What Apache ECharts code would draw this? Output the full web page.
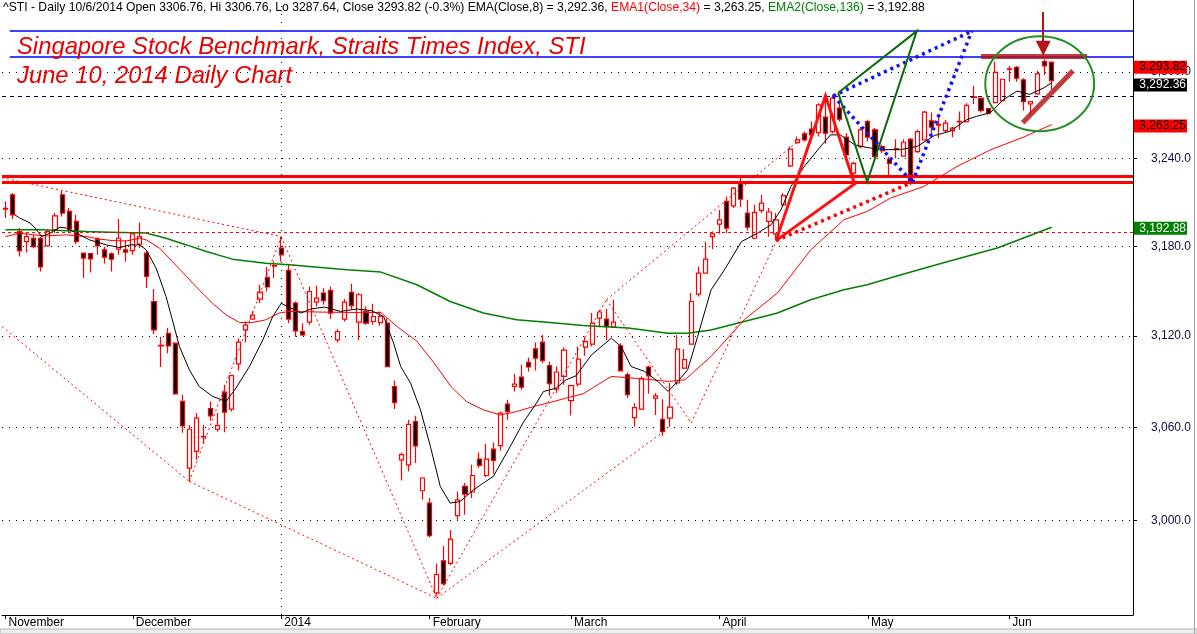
<!DOCTYPE html>
<html>
<head>
<meta charset="utf-8">
<title>STI Daily Chart</title>
<script src="https://cdn.jsdelivr.net/npm/echarts@6.0.0/dist/echarts.min.js"></script>
<style>
html,body{margin:0;padding:0;background:#ffffff;overflow:hidden;}
#chart{width:1197px;height:634px;}
</style>
</head>
<body>
<div id="chart"></div>
<script>
// ---------------- data ----------------
const monthLabels = ['November','December','2014','February','March','April','May','Jun'];
const monthStartSlots = [0,18,39,60,80,101,122,142];
const slotCount = 160;
const yTicks = [3000,3060,3120,3180,3240,3300];
const yRange = [2940.5, 3350.7];

// [open, close, low, high]
const candles = [
[3205.1,3205.7,3199.1,3210.4],[3214.9,3201.3,3198.4,3216.1],[3189.9,3176.9,3173.0,3192.3],[3183.1,3186.5,3175.7,3188.9],
[3185.4,3179.7,3178.7,3187.7],[3185.4,3166.0,3163.0,3186.5],[3180.2,3189.9,3179.7,3191.1],[3191.1,3200.6,3188.9,3202.5],
[3214.9,3202.5,3200.2,3217.6],[3203.6,3191.6,3188.9,3205.9],[3196.8,3183.1,3181.6,3201.3],[3175.3,3172.0,3158.6,3175.8],
[3175.0,3171.5,3162.3,3175.5],[3184.8,3180.2,3174.2,3186.1],[3177.5,3172.6,3168.4,3179.7],[3174.9,3171.3,3163.0,3175.7],
[3178.0,3185.4,3174.2,3198.4],[3177.5,3176.1,3169.5,3184.3],[3177.0,3188.4,3174.2,3189.3],[3181.4,3186.5,3178.7,3196.1],
[3175.3,3159.7,3151.9,3177.5],[3142.9,3124.0,3121.3,3151.2],[3113.4,3113.8,3099.5,3119.5],[3121.8,3113.4,3108.6,3125.2],
[3115.2,3081.9,3081.3,3115.8],[3076.9,3060.9,3056.6,3081.3],[3033.7,3058.8,3025.1,3061.6],[3044.4,3066.0,3039.0,3069.3],
[3053.8,3054.2,3049.8,3061.6],[3072.3,3067.5,3064.4,3076.9],[3058.8,3061.1,3057.2,3069.3],[3083.0,3069.9,3056.9,3087.8],
[3071.9,3093.9,3070.3,3094.4],[3101.6,3115.9,3097.2,3118.5],[3124.0,3127.2,3115.6,3129.6],[3131.2,3133.8,3130.7,3136.3],
[3144.5,3149.2,3141.9,3154.1],[3159.0,3152.6,3149.6,3166.0],[3166.6,3167.0,3158.6,3169.7],[3178.7,3174.2,3169.7,3186.5],
[3163.7,3131.2,3128.5,3167.5],[3141.9,3123.3,3119.5,3142.9],[3122.9,3120.7,3120.0,3128.5],[3129.2,3149.6,3127.4,3153.0],
[3142.5,3145.2,3139.6,3153.4],[3148.6,3143.4,3140.7,3151.7],[3150.3,3135.2,3131.2,3153.0],[3117.4,3122.9,3115.6,3124.5],
[3131.2,3142.5,3129.6,3144.5],[3149.0,3140.1,3137.9,3154.8],[3129.2,3147.4,3117.4,3148.6],[3136.3,3128.5,3127.4,3139.6],
[3129.6,3132.9,3127.4,3141.4],[3128.9,3132.9,3126.7,3136.3],[3128.5,3099.8,3099.5,3131.8],[3086.7,3076.2,3071.9,3090.7],
[3039.0,3042.3,3025.7,3043.7],[3035.8,3062.0,3031.5,3064.8],[3063.7,3048.0,3036.9,3067.5],[3019.1,3027.3,3013.3,3027.8],
[3011.2,2990.4,2989.4,3014.4],[2954.4,2965.9,2952.7,2972.9],[2974.5,2960.1,2959.0,2983.9],[2972.9,2988.2,2971.8,2994.1],
[3003.2,3013.3,3000.5,3018.7],[3021.9,3017.0,3003.7,3024.1],[3018.3,3028.9,3014.4,3035.8],[3039.5,3035.4,3033.7,3043.7],
[3028.9,3039.5,3027.9,3049.3],[3045.9,3038.6,3030.0,3050.2],[3048.2,3069.3,3044.8,3070.3],[3075.2,3070.3,3064.9,3078.0],
[3086.7,3088.3,3083.4,3095.1],[3092.9,3086.3,3084.6,3101.0],[3102.5,3099.5,3096.6,3105.8],[3111.5,3105.4,3097.2,3115.6],
[3115.9,3103.6,3102.1,3120.7],[3100.5,3088.5,3080.6,3103.1],[3085.0,3096.2,3082.4,3099.8],[3093.3,3110.6,3087.8,3112.6],
[3077.5,3087.2,3067.7,3087.8],[3088.3,3104.7,3086.7,3113.0],[3112.6,3116.3,3106.9,3119.5],[3114.6,3128.5,3113.0,3135.2],
[3131.8,3135.9,3125.8,3137.4],[3131.2,3126.2,3117.4,3137.9],[3125.8,3129.2,3125.2,3144.1],[3113.4,3097.0,3096.6,3115.2],
[3094.4,3081.3,3079.1,3095.9],[3066.4,3072.9,3060.5,3075.8],[3071.9,3091.8,3071.4,3093.3],[3099.5,3093.7,3081.9,3100.3],
[3079.1,3080.6,3068.1,3082.4],[3065.3,3057.2,3054.5,3078.4],[3066.0,3073.2,3060.5,3089.0],[3089.0,3111.3,3087.8,3120.7],
[3098.8,3104.3,3098.1,3111.3],[3114.6,3142.9,3114.1,3148.6],[3147.9,3161.9,3146.3,3166.4],[3161.9,3171.3,3161.4,3183.1],
[3186.5,3188.4,3178.0,3189.9],[3195.0,3197.9,3188.4,3204.7],[3210.4,3192.3,3188.9,3213.8],[3207.4,3219.5,3205.9,3220.2],
[3222.4,3212.0,3206.6,3227.4],[3202.5,3192.9,3190.6,3211.5],[3185.4,3202.9,3184.8,3208.1],[3204.3,3209.3,3202.5,3214.9],
[3196.8,3203.2,3186.5,3205.9],[3188.4,3197.9,3184.3,3202.5],[3208.1,3214.3,3207.0,3216.1],[3234.7,3246.2,3233.9,3248.0],
[3250.8,3252.6,3249.9,3254.9],[3256.8,3252.6,3251.5,3258.4],[3260.1,3256.1,3254.9,3265.3],[3257.7,3276.9,3254.9,3278.1],
[3268.4,3257.3,3249.9,3282.7],[3258.4,3281.6,3257.3,3283.9],[3274.7,3267.0,3265.3,3278.1],[3254.5,3242.2,3240.6,3257.3],
[3229.7,3236.5,3227.4,3237.6],[3248.0,3259.6,3246.9,3261.5],[3265.3,3254.5,3251.5,3266.5],[3259.6,3241.0,3239.9,3260.8],
[3248.0,3245.2,3243.4,3249.2],[3239.3,3236.5,3227.0,3241.0],[3246.2,3246.6,3239.9,3253.1],[3241.5,3251.0,3241.0,3253.1],
[3253.1,3223.3,3221.7,3253.8],[3244.5,3258.4,3243.8,3259.6],[3252.6,3271.9,3252.2,3272.8],[3265.8,3261.5,3253.8,3271.6],
[3262.9,3263.3,3253.8,3268.8],[3259.1,3264.2,3257.7,3266.5],[3259.1,3260.8,3254.5,3261.5],[3265.1,3265.5,3259.6,3272.3],
[3265.3,3276.5,3264.7,3278.1],[3282.1,3282.5,3277.6,3290.1],[3281.6,3273.0,3271.6,3282.0],[3274.4,3271.2,3270.0,3274.7],
[3278.5,3299.6,3278.1,3307.1],[3279.9,3294.8,3279.2,3295.2],[3301.6,3302.0,3293.1,3304.1],[3303.2,3295.5,3293.1,3304.1],
[3294.3,3279.2,3273.0,3295.5],[3277.6,3279.2,3270.0,3279.6],[3284.6,3298.5,3283.9,3300.8],[3307.1,3304.1,3297.8,3308.8],
[3306.76,3293.82,3287.64,3306.76]
];

// EMA readings: [slot, value]
const ema8 = [[1.3,3201.3],[2,3199.1],[3.5,3195.7],[4.4,3191.1],[5.1,3186.5],[6.3,3188.9],[7.7,3192.9],[8.6,3192.3],[10,3188.9],[11.9,3184.3],[14.3,3180.9],[16.2,3179.1],[17.6,3180.9],[19,3180.9],[19.9,3177.5],[21.3,3165.3],[22.7,3146.3],[23.6,3130.7],[24.6,3113.0],[26,3097.7],[27.4,3086.7],[29.3,3080.2],[31.2,3076.9],[32.6,3085.7],[34.5,3099.8],[36.4,3117.4],[37.8,3132.9],[39,3141.7],[39.9,3139.6],[41.8,3135.2],[43.2,3137.9],[45.1,3139.2],[47.4,3136.3],[49.7,3137.9],[51.7,3136.9],[53.5,3132.9],[54.9,3115.2],[55.9,3099.8],[57.3,3088.9],[58.7,3071.4],[60.1,3047.7],[61.5,3021.9],[62.9,3011.2],[64.3,3012.2],[66.2,3019.7],[67.6,3024.1],[69,3028.3],[71.4,3047.6],[73.3,3063.7],[75.1,3075.8],[76.1,3083.4],[77.9,3085.7],[79.3,3091.1],[80.7,3093.7],[82.9,3107.5],[85.7,3118.5],[87.1,3112.9],[88.5,3099.8],[90.4,3096.6],[92.3,3090.0],[93.7,3083.5],[95.1,3090.0],[96.5,3097.7],[97.9,3119.5],[99.8,3150.6],[101.7,3164.1],[104.1,3183.1],[106.4,3188.9],[108.3,3194.5],[109.7,3204.7],[111.1,3220.6],[113,3234.3],[114.9,3245.7],[116.7,3256.1],[118.1,3256.1],[120.1,3249.3],[121.9,3247.3],[124.3,3245.9],[126.6,3245.9],[129,3248.2],[131.4,3255.6],[133.6,3258.6],[136,3266.7],[137.4,3269.0],[139.3,3271.4],[141.2,3280.7],[143.1,3286.5],[144.9,3284.2],[146.9,3288.8],[148,3292.36]];
const ema34 = [[0,3186.5],[2,3188.9],[3.9,3187.7],[5.9,3187.0],[8.6,3187.7],[11.5,3186.5],[13.3,3184.8],[15.2,3183.8],[17.1,3183.6],[19,3185.4],[19.9,3184.3],[21.8,3178.7],[23.6,3169.7],[25.6,3159.7],[27.4,3150.6],[29.3,3141.7],[31.2,3134.0],[33.1,3128.9],[34.9,3128.9],[36.8,3130.7],[38.7,3135.2],[40.1,3136.3],[44.1,3135.9],[48.8,3135.6],[53.1,3135.6],[55.4,3126.2],[58.2,3116.5],[60.6,3102.3],[63,3086.7],[65.2,3076.9],[67.6,3071.4],[70,3068.1],[72.3,3070.3],[74.7,3073.6],[77,3076.2],[79.3,3079.1],[81.7,3081.9],[85.7,3093.3],[90.4,3091.6],[93.7,3090.0],[96.1,3091.1],[99.8,3106.4],[104.5,3130.7],[109.2,3148.6],[113.9,3177.5],[118.6,3197.9],[121.9,3203.6],[125.2,3212.7],[129.9,3220.6],[134.6,3234.3],[139.3,3245.7],[144,3254.5],[148,3263.25]];
const ema136 = [[0,3191.1],[4.9,3191.1],[11.5,3189.9],[14.7,3189.5],[19.9,3188.9],[22.7,3185.4],[25.6,3180.9],[28.4,3176.4],[32.1,3171.3],[36.8,3168.6],[40.1,3167.5],[48.3,3164.1],[53.1,3162.6],[58.2,3154.1],[62.9,3142.9],[67.6,3135.2],[72.3,3130.7],[77,3128.9],[81.7,3127.0],[88.1,3125.2],[93.7,3121.8],[96.5,3121.8],[99.8,3124.0],[104.5,3129.6],[109.2,3135.2],[113.9,3144.1],[118.6,3150.8],[121.9,3154.1],[126.2,3160.1],[133.2,3169.5],[140.3,3178.8],[148,3192.88]];

// drawn study lines (slot, price)
const thinTrendLines = [
 [[-0.5,3226.6],[39,3186.5]],
 [[-0.5,3126.2],[26,3025.1]],
 [[26,3025.1],[39,3186.5]],
 [[26,3025.1],[61,2951.0]],
 [[39,3186.5],[61,2951.0]],
 [[61,2951.0],[85,3144.1]],
 [[61,2951.0],[93,3057.0]],
 [[85,3144.1],[97,3062.9]],
 [[97,3062.9],[109,3183.1]],
 [[85,3144.1],[113.5,3257.5]]
];
const redTriangle = [[109,3183.8],[116,3283.2],[120.1,3222.4],[109,3183.8]];
const redDottedLine = [[109,3183.8],[128.3,3223.5]];
const blueDottedLines = [
 [[117.1,3283.2],[128.3,3223.5]],
 [[117.1,3283.2],[136.7,3328.6]],
 [[128.3,3223.5],[136.7,3328.6]]
];
const greenTriangle = [[117.8,3285.3],[128.9,3328.6],[121.9,3223.7],[117.8,3285.3]];
const redThickLevels = [3227.9, 3223.4];
const blueLevels = [3328.6, 3310.9];
const navyDashedLevel = 3283.2;
const redDashedLevel = 3189.3;
const circleBar = [[138,3311.1],[153,3311.1]];
const circleDiagonal = [[143.9,3264.5],[151,3300.8]];
const circleArrow = [[146.8,3342.2],[146.8,3316.5]];
const circleBox = {center:[146.3,3291.0], xSpan:[138.6,154.0], ySpan:[3258.6,3325.0]};
const priceTagValues = [3293.82, 3292.36, 3263.25, 3192.88];
const priceTagText = ['3,293.82','3,292.36','3,263.25','3,192.88'];

// ---------------- chart ----------------
const FONT = '"Liberation Sans", Arial, sans-serif';
const categories = Array.from({length: slotCount}, (_, i) => {
  const k = monthStartSlots.indexOf(i);
  return k >= 0 ? monthLabels[k] : String(i);
});
const isMonthStart = (i) => monthStartSlots.indexOf(i) >= 0;
function fmtTick(v){
  const s = Number(v).toFixed(1); const p = s.split('.');
  return p[0].replace(/\B(?=(\d{3})+(?!\d))/g, ',') + '.' + p[1];
}
const xL = -0.5, xR = slotCount - 0.5;
const hseg = (v, a, b) => ({coords: [[a === undefined ? xL : a, v], [b === undefined ? xR : b, v]]});

function linesSeries(data, style, extra){
  return Object.assign({
    type:'lines', coordinateSystem:'cartesian2d', xAxisIndex:1, yAxisIndex:0,
    polyline:false, silent:true, data: data,
    lineStyle: Object.assign({opacity:1, curveness:0}, style), z:5
  }, extra || {});
}

const chart = echarts.init(document.getElementById('chart'), null, {renderer:'canvas'});
const option = {
  animation:false,
  backgroundColor:'#ffffff',
  grid:{left:2, top:0, right:64, bottom:19, containLabel:false},
  xAxis:[
    {type:'category', data:categories, boundaryGap:true, position:'bottom',
     axisLine:{show:true, onZero:false, lineStyle:{color:'#000000', width:1}},
     axisTick:{show:true, alignWithLabel:true, length:4, interval:isMonthStart, lineStyle:{color:'#000000'}},
     axisLabel:{show:true, interval:isMonthStart, align:'left', margin:2, padding:[0,0,0,3],
                color:'#000000', fontFamily:FONT, fontSize:12},
     splitLine:{show:false}},
    {type:'value', min:xL, max:xR, show:false, position:'top'}
  ],
  yAxis:[
    {type:'log', logBase:10, position:'right', min:yRange[0], max:yRange[1],
     axisLine:{show:true, onZero:false, lineStyle:{color:'#000000', width:1}},
     axisTick:{show:true, length:4, customValues:yTicks, lineStyle:{color:'#000000'}},
     axisLabel:{show:true, customValues:yTicks, formatter:fmtTick, align:'right', margin:58,
                color:'#0d0d40', fontFamily:FONT, fontSize:12},
     splitLine:{show:false}}
  ],
  series:[
    linesSeries(yTicks.map(v => hseg(v)), {color:'#000000', width:1, type:[1,6]}, {z:1}),
    linesSeries([{coords:[[39, yRange[0]],[39, yRange[1]]]}], {color:'#000000', width:1, type:[1,7]}, {z:1}),
    {type:'candlestick', xAxisIndex:0, yAxisIndex:0, data:candles, barWidth:4.6, z:2,
     itemStyle:{color:'#ffffff', color0:'#000000', borderColor:'#ff0000', borderColor0:'#ff0000',
                borderColorDoji:'#ff0000', borderWidth:1.2}},
    {type:'line', xAxisIndex:1, yAxisIndex:0, data:ema136, symbol:'none', z:3, lineStyle:{color:'#008000', width:1.5}},
    {type:'line', xAxisIndex:1, yAxisIndex:0, data:ema34, symbol:'none', z:3, lineStyle:{color:'#ff0000', width:1}},
    {type:'line', xAxisIndex:1, yAxisIndex:0, data:ema8, symbol:'none', z:3, lineStyle:{color:'#000000', width:1}},
    linesSeries([hseg(navyDashedLevel)], {color:'#000080', width:1, type:[4,4]}),
    linesSeries([hseg(redDashedLevel)], {color:'#ff0000', width:1, type:[3,3]}),
    linesSeries(redThickLevels.map(v => hseg(v)), {color:'#ff0000', width:3}),
    linesSeries(blueLevels.map(v => hseg(v, 0.6)), {color:'#0000ff', width:1.6}),
    linesSeries(thinTrendLines.map(c => ({coords:c})), {color:'#ff0000', width:1, type:[2,3]}),
    linesSeries([{coords:redTriangle}], {color:'#ff1010', width:3}, {polyline:true}),
    linesSeries([{coords:redDottedLine}], {color:'#ff0000', width:3.5, type:[3,4]}),
    linesSeries(blueDottedLines.map(c => ({coords:c})), {color:'#1010ff', width:3.5, type:[3,4]}),
    linesSeries([{coords:greenTriangle}], {color:'#0a6a0a', width:2}, {polyline:true}),
    linesSeries([{coords:circleBar},{coords:circleDiagonal}], {color:'rgba(178,18,18,0.82)', width:5}, {z:6}),
    linesSeries([{coords:circleArrow}], {color:'#b51414', width:2}, {z:6, symbol:['none','triangle'], symbolSize:[0,15]})
  ]
};
chart.setOption(option);

// ---------------- overlays placed through the axes ----------------
const toPx = (p) => chart.convertToPixel({xAxisIndex:1, yAxisIndex:0}, p);
const graphics = [];
const HF = '12.15px ' + FONT;
// header
graphics.push({type:'text', x:3, y:8, z:100, silent:true,
  style:{text:'{k|^STI - Daily 10/6/2014 Open 3306.76, Hi 3306.76, Lo 3287.64, Close 3293.82 (-0.3%) EMA(Close,8) = 3,292.36, }{r|EMA1(Close,34)}{k| = 3,263.25, }{g|EMA2(Close,136)}{k| = 3,192.88}',
    font:HF, verticalAlign:'middle', align:'left',
    rich:{k:{fill:'#000000', font:HF}, r:{fill:'#ff0000', font:HF}, g:{fill:'#008000', font:HF}}}});
// titles
graphics.push({type:'text', x:17, y:47, z:100, silent:true,
  style:{text:'Singapore Stock Benchmark, Straits Times Index, STI', font:'italic 23.8px ' + FONT, fill:'#e60000', verticalAlign:'middle', align:'left'}});
graphics.push({type:'text', x:17, y:76, z:100, silent:true,
  style:{text:'June 10, 2014 Daily Chart', font:'italic 23.8px ' + FONT, fill:'#e60000', verticalAlign:'middle', align:'left'}});
// green ellipse
const cC = toPx(circleBox.center);
const cL = toPx([circleBox.xSpan[0], circleBox.center[1]]);
const cR = toPx([circleBox.xSpan[1], circleBox.center[1]]);
const cT = toPx([circleBox.center[0], circleBox.ySpan[1]]);
const cB = toPx([circleBox.center[0], circleBox.ySpan[0]]);
graphics.push({type:'ellipse', z:90, silent:true,
  shape:{cx:cC[0], cy:(cT[1] + cB[1]) / 2, rx:(cR[0] - cL[0]) / 2, ry:(cB[1] - cT[1]) / 2},
  style:{fill:'none', stroke:'#1f8f1f', lineWidth:2}});
// price tags on the right axis
const tagColors = [['#ff0000','#000000'],['#000000','#ffffff'],['#ff0000','#000000'],['#008000','#ffffff']];
const tagShift = [-13.5, 2.3, 1.5, 1];
const axisX = toPx([xR, yRange[0]])[0];
priceTagValues.forEach((v, i) => {
  const y = toPx([xR, v])[1] + tagShift[i];
  graphics.push({type:'rect', z:95, silent:true, shape:{x:axisX + 0.5, y:y - 6.5, width:53.5, height:13},
    style:{fill:tagColors[i][0]}});
  graphics.push({type:'text', z:96, silent:true, x:axisX + 53, y:y,
    style:{text:priceTagText[i], font:'12px ' + FONT, fill:tagColors[i][1], align:'right', verticalAlign:'middle'}});
});
// window frame bits
graphics.push({type:'rect', z:80, silent:true, shape:{x:0, y:629, width:1197, height:5}, style:{fill:'#ededed', stroke:'#b4b4b4', lineWidth:1}});
graphics.push({type:'line', z:80, silent:true, shape:{x1:1194.5, y1:0, x2:1194.5, y2:634}, style:{stroke:'#a0a0a0', lineWidth:1}});
chart.setOption({graphic:graphics});
</script>
</body>
</html>
